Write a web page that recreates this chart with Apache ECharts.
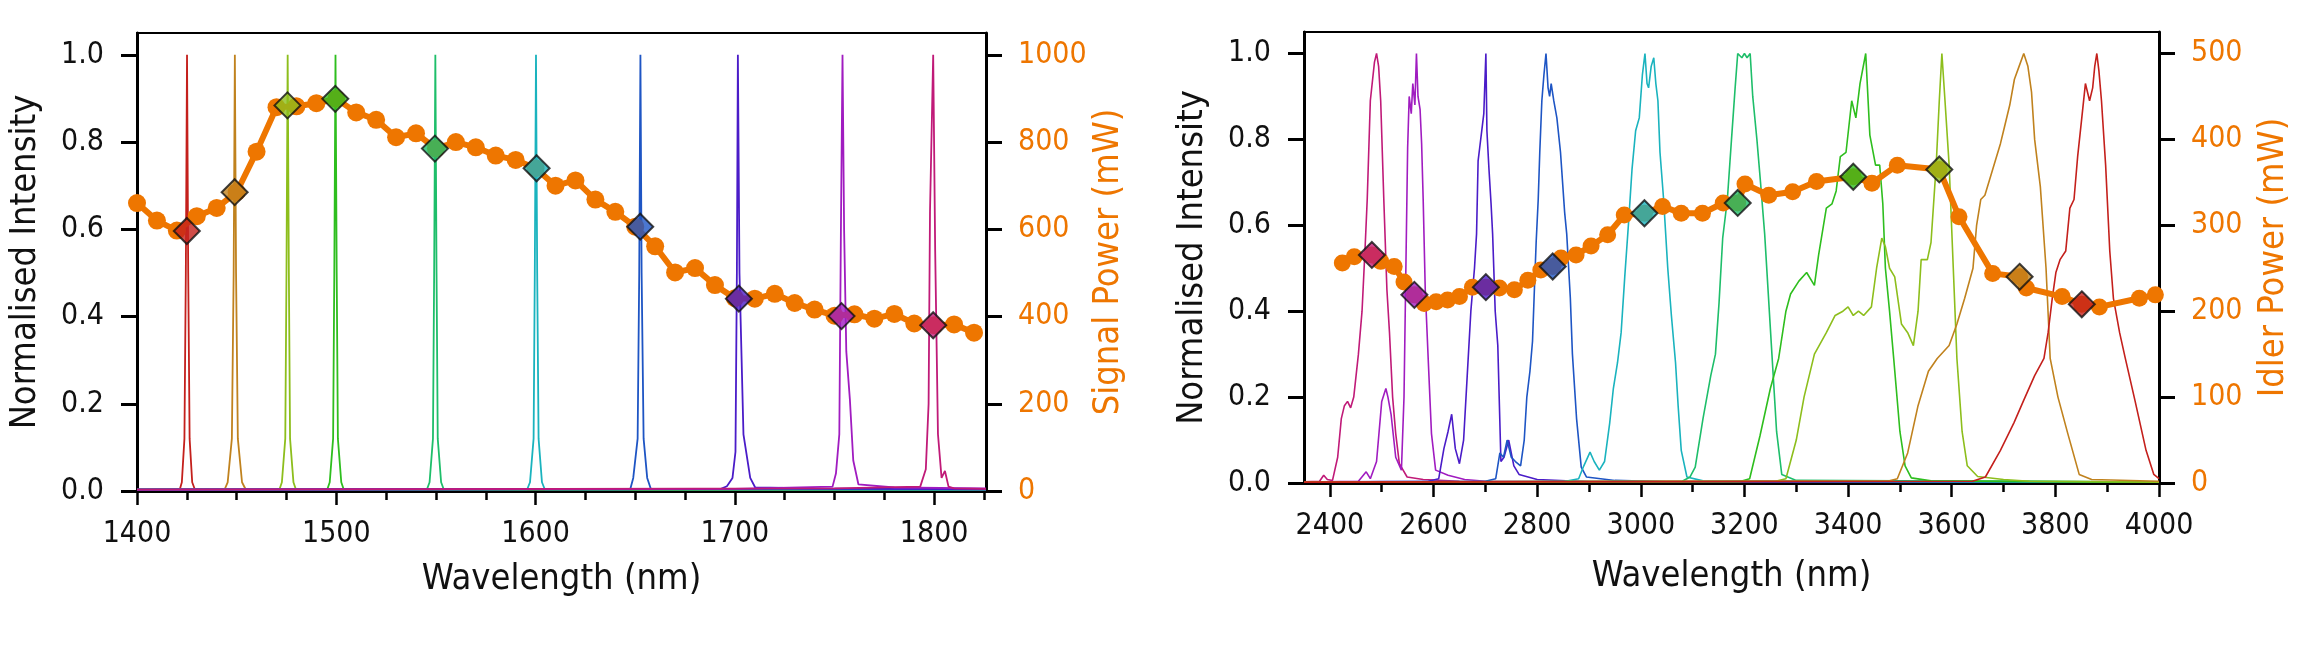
<!DOCTYPE html>
<html><head><meta charset="utf-8">
<script src="https://cdn.jsdelivr.net/npm/echarts@6/dist/echarts.min.js"></script>
<style>html,body{margin:0;padding:0;background:#fff}#c{width:2321px;height:660px}</style>
</head><body><div id="c"></div>
<script>
// ---------- DATA ----------
// Signal power curve (left chart, right axis, mW)
const signalWl = [1400,1410,1420,1430,1440,1450,1460,1470,1480,1490,1500,1510,1520,1530,1540,1550,1560,1570,1580,1590,1600,1610,1620,1630,1640,1650,1660,1670,1680,1690,1700,1710,1720,1730,1740,1750,1760,1770,1780,1790,1800,1810,1820];
const signalPower = [660,620,597,630,649,685,778,880,882,889,899,868,851,811,820,785,800,788,769,759,740,700,712,668,640,606,561,501,511,472,442,441,452,431,416,402,405,395,406,384,380,382,363];
// Signal diamonds (at spectrum peaks)
const signalMarkWl = [1425,1449,1475.5,1499.5,1549.5,1600.5,1652.5,1702,1753.5,1799.5];
const signalMarkPower = [596,685,884,899,785,740,606,441,401,380];

// Idler power curve (right chart, right axis, mW)
const idlerWl = [2424,2447,2481,2498,2524,2543,2563,2582,2605,2627,2650,2675,2701,2727,2756,2782,2807,2830,2846,2875,2904,2936,2968,3007,3042,3078,3119,3159,3187,3201,3247,3293,3339,3410,3446,3495,3576,3614,3679,3731,3744,3813,3851,3885,3962,3993];
const idlerPower = [256,263.5,265.5,258,252,234,219,209,211,213,217,228,228,227,225,236,248,252,262,265.5,276,289,312,314,322,314,314,326,326,348,335,339,351,356.5,349,370,365,310,244,240,227,217,208,205,215,219];
const idlerMarkWl = [2481,2563,2701,2830,3007,3187,3410,3576,3731,3851];
const idlerMarkPower = [265.5,219,228,252,314,326,356.5,365,240,208];

// Spectrum colours: signal order 1425 ... 1800
const specColors = ['#C4201C','#C0821E','#8DBE1C','#2EBE1E','#1EBE6A','#1AB3BE','#1E55C4','#4A1CC8','#A01CC0','#C01A78'];
// idler colours (same pairing, ordered by idler wavelength)
const idlerColors = ['#C01A78','#A01CC0','#4A1CC8','#1E55C4','#1AB3BE','#1EBE6A','#2EBE1E','#8DBE1C','#C0821E','#C4201C'];

// Signal spectra (normalised intensity)
const sig1425 = [[1400,0.003],[1421.5,0.004],[1422.5,0.02],[1423.8,0.12],[1424.5,0.5],[1425.1,1],[1425.7,0.5],[1426.4,0.12],[1427.7,0.02],[1429,0.004],[1826,0.003]];
const sig1450 = [[1400,0.003],[1444,0.004],[1445.5,0.02],[1447.6,0.12],[1448.5,0.5],[1449.1,1],[1449.7,0.5],[1450.6,0.12],[1452.7,0.02],[1454.5,0.004],[1826,0.003]];
const sig1475 = [[1400,0.003],[1471.5,0.004],[1472.7,0.02],[1474.4,0.12],[1475,0.5],[1475.6,1],[1476.2,0.5],[1476.8,0.12],[1478.5,0.02],[1479.7,0.004],[1826,0.003]];
const sig1500 = [[1400,0.003],[1495.5,0.004],[1496.7,0.02],[1498.4,0.12],[1499,0.5],[1499.6,1],[1500.2,0.5],[1500.8,0.12],[1502.5,0.02],[1503.7,0.004],[1826,0.003]];
const sig1550 = [[1400,0.003],[1545.5,0.004],[1546.8,0.02],[1548.5,0.12],[1549.1,0.5],[1549.7,1],[1550.3,0.5],[1550.9,0.12],[1552.6,0.02],[1553.9,0.004],[1826,0.003]];
const sig1600 = [[1400,0.003],[1595.8,0.004],[1597.2,0.02],[1599,0.12],[1599.6,0.5],[1600.2,1],[1600.8,0.5],[1601.5,0.12],[1603.2,0.02],[1604.6,0.004],[1826,0.003]];
const sig1650 = [[1400,0.003],[1647.5,0.004],[1649,0.03],[1651.2,0.12],[1652,0.5],[1652.6,1],[1653.2,0.5],[1654.2,0.12],[1656,0.03],[1657.8,0.005],[1826,0.004]];
const sig1700 = [[1400,0.003],[1693,0.005],[1696,0.011],[1698.8,0.03],[1700.3,0.09],[1701,0.5],[1701.5,1],[1702.3,0.5],[1704.3,0.13],[1707.7,0.03],[1710.2,0.008],[1740,0.006],[1826,0.004]];
const sig1750 = [[1400,0.003],[1700,0.005],[1749,0.01],[1750.7,0.04],[1752.4,0.13],[1753.2,0.6],[1754,1],[1754.8,0.6],[1755.9,0.32],[1757.7,0.21],[1759.4,0.07],[1762,0.015],[1780,0.008],[1826,0.006]];
const sig1800 = [[1400,0.003],[1750,0.006],[1793,0.01],[1795.8,0.05],[1797.2,0.2],[1797.9,0.64],[1799.5,1],[1800.5,0.55],[1801.9,0.13],[1803.7,0.03],[1805.4,0.046],[1807.2,0.01],[1810,0.006],[1826,0.005]];

// Idler spectra (normalised intensity)
const idl2490 = [[2350,0.003],[2380,0.004],[2388,0.018],[2395,0.008],[2405,0.006],[2415,0.06],[2422,0.15],[2428,0.18],[2434,0.19],[2440,0.175],[2446,0.2],[2455,0.3],[2462,0.4],[2468,0.55],[2472,0.66],[2478,0.89],[2486,0.98],[2490,1.0],[2494,0.97],[2498,0.89],[2504,0.66],[2510,0.45],[2515,0.35],[2521,0.2],[2527,0.115],[2534,0.045],[2549,0.014],[2580,0.008],[2650,0.004],[4000,0.002]];
const idl2567 = [[2350,0.002],[2455,0.004],[2470,0.026],[2478,0.01],[2490,0.05],[2500,0.19],[2508,0.22],[2512,0.2],[2518,0.16],[2527,0.06],[2538,0.03],[2543,0.2],[2546,0.45],[2550,0.78],[2553,0.9],[2557,0.86],[2560,0.93],[2564,0.88],[2567,1.0],[2570,0.9],[2574,0.87],[2577,0.79],[2580,0.66],[2584,0.45],[2590,0.28],[2596,0.115],[2604,0.03],[2628,0.018],[2660,0.008],[2700,0.004],[4000,0.002]];
const idl2701 = [[2350,0.002],[2590,0.004],[2610,0.01],[2620,0.08],[2628,0.12],[2635,0.16],[2642,0.08],[2650,0.045],[2658,0.1],[2665,0.25],[2672,0.4],[2679,0.5],[2683,0.58],[2686,0.75],[2689,0.78],[2693,0.82],[2697,0.86],[2701,1.0],[2703,0.82],[2707,0.73],[2711,0.65],[2714,0.58],[2719,0.4],[2724,0.32],[2730,0.05],[2736,0.06],[2745,0.1],[2755,0.04],[2765,0.02],[2800,0.008],[2900,0.003],[4000,0.002]];
const idl2817 = [[2350,0.002],[2700,0.004],[2720,0.01],[2728,0.07],[2735,0.06],[2742,0.1],[2750,0.06],[2758,0.05],[2768,0.04],[2775,0.1],[2780,0.2],[2786,0.26],[2791,0.33],[2794,0.43],[2798,0.56],[2802,0.66],[2805,0.77],[2809,0.89],[2813,0.95],[2817,1.0],[2821,0.92],[2824,0.9],[2827,0.93],[2832,0.89],[2838,0.85],[2845,0.77],[2853,0.63],[2857,0.58],[2864,0.43],[2868,0.3],[2876,0.15],[2885,0.037],[2895,0.014],[2950,0.006],[3050,0.003],[4000,0.002]];
const idl3008 = [[2350,0.002],[2850,0.003],[2880,0.01],[2890,0.04],[2902,0.072],[2910,0.05],[2920,0.03],[2930,0.05],[2940,0.14],[2947,0.22],[2955,0.28],[2962,0.35],[2969,0.48],[2976,0.6],[2983,0.73],[2990,0.82],[2997,0.85],[3003,0.95],[3008,1.0],[3012,0.93],[3015,0.92],[3020,0.97],[3025,0.99],[3029,0.93],[3033,0.89],[3037,0.77],[3044,0.66],[3052,0.5],[3059,0.39],[3067,0.28],[3072,0.18],[3078,0.076],[3089,0.014],[3120,0.005],[4000,0.002]];
const idl3190 = [[2350,0.002],[3080,0.004],[3095,0.014],[3105,0.037],[3120,0.15],[3135,0.25],[3144,0.3],[3151,0.42],[3158,0.57],[3167,0.66],[3175,0.8],[3182,0.92],[3187,1.0],[3195,0.99],[3200,1.0],[3205,0.99],[3211,1.0],[3216,0.9],[3224,0.8],[3231,0.7],[3239,0.58],[3245,0.46],[3253,0.3],[3262,0.12],[3272,0.02],[3300,0.006],[4000,0.002]];
const idl3434 = [[2350,0.002],[3190,0.003],[3210,0.01],[3230,0.11],[3250,0.22],[3266,0.29],[3280,0.4],[3289,0.44],[3305,0.47],[3320,0.49],[3335,0.46],[3343,0.53],[3358,0.64],[3369,0.65],[3377,0.68],[3385,0.76],[3396,0.77],[3407,0.89],[3415,0.85],[3423,0.93],[3434,1.0],[3442,0.81],[3453,0.74],[3461,0.74],[3467,0.65],[3472,0.5],[3480,0.4],[3488,0.29],[3500,0.12],[3510,0.04],[3522,0.012],[3560,0.005],[4000,0.002]];
const idl3581 = [[2350,0.002],[3260,0.004],[3280,0.01],[3300,0.1],[3315,0.2],[3335,0.3],[3358,0.35],[3375,0.39],[3390,0.4],[3400,0.41],[3410,0.39],[3420,0.4],[3430,0.39],[3445,0.41],[3455,0.5],[3465,0.57],[3472,0.55],[3480,0.5],[3490,0.48],[3503,0.37],[3515,0.35],[3526,0.32],[3535,0.4],[3541,0.52],[3553,0.52],[3560,0.56],[3570,0.74],[3576,0.89],[3581,1.0],[3587,0.89],[3595,0.74],[3603,0.5],[3610,0.29],[3620,0.12],[3630,0.04],[3650,0.015],[3700,0.008],[3750,0.004],[4000,0.002]];
const idl3739 = [[2350,0.002],[3480,0.005],[3495,0.01],[3515,0.07],[3535,0.18],[3555,0.26],[3572,0.29],[3595,0.32],[3610,0.37],[3625,0.43],[3641,0.5],[3648,0.6],[3656,0.66],[3664,0.67],[3679,0.73],[3694,0.79],[3702,0.83],[3712,0.88],[3721,0.94],[3730,0.97],[3739,1.0],[3747,0.97],[3754,0.91],[3760,0.8],[3771,0.69],[3782,0.5],[3790,0.29],[3805,0.2],[3824,0.115],[3846,0.02],[3870,0.008],[4000,0.004]];
const idl3880 = [[2350,0.002],[3640,0.004],[3665,0.014],[3694,0.076],[3720,0.14],[3738,0.19],[3760,0.25],[3778,0.29],[3786,0.35],[3794,0.43],[3801,0.49],[3809,0.52],[3820,0.54],[3828,0.64],[3836,0.66],[3843,0.76],[3851,0.85],[3858,0.93],[3866,0.89],[3872,0.92],[3876,0.97],[3880,1.0],[3884,0.96],[3889,0.89],[3897,0.74],[3905,0.54],[3912,0.43],[3924,0.35],[3935,0.29],[3954,0.19],[3975,0.076],[3990,0.02],[4000,0.01]];

// Tick positions / labels
const sigMajorTicks = [1400,1500,1600,1700,1800];
const sigMinorTicks = [1425,1450,1475,1525,1550,1575,1625,1650,1675,1725,1750,1775,1825];
const idlMajorTicks = [2400,2600,2800,3000,3200,3400,3600,3800,4000];
const idlMinorTicks = [2500,2700,2900,3100,3300,3500,3700,3900];
const intensityTicks = [0,0.2,0.4,0.6,0.8,1.0];
const signalPowerTicks = [0,200,400,600,800,1000];
const idlerPowerTicks = [0,100,200,300,400,500];

// ---------- CHART ----------
const W = 2321, H = 660;
const FONT = "'DejaVu Sans Condensed','Liberation Sans',sans-serif";
const ORANGE = '#EE7600';
const TICK_FS = 30, TITLE_FS = 36;

const sigSpectra = [sig1425,sig1450,sig1475,sig1500,sig1550,sig1600,sig1650,sig1700,sig1750,sig1800];
const idlSpectra = [idl2490,idl2567,idl2701,idl2817,idl3008,idl3190,idl3434,idl3581,idl3739,idl3880];

const chart = echarts.init(document.getElementById('c'), null, {renderer:'canvas', width:W, height:H});
const plain = v => String(v);

function xMain(grid, min, max, major) {
  return {
    gridIndex: grid, type:'value', min, max, position:'bottom',
    name:'Wavelength (nm)', nameLocation:'middle', nameGap: grid === 0 ? 71 : 76,
    nameTextStyle:{fontFamily:FONT, fontSize:TITLE_FS, color:'#111'},
    axisLine:{show:true, onZero:false, lineStyle:{color:'#000', width:3}},
    axisTick:{show:true, length:14, customValues:major, lineStyle:{color:'#000', width:2.5}},
    axisLabel:{show:true, customValues:major, margin:28, fontFamily:FONT, fontSize:TICK_FS, color:'#111', formatter:plain},
    splitLine:{show:false}
  };
}
function xMinor(grid, min, max, minor) {
  return {
    gridIndex: grid, type:'value', min, max, position:'bottom',
    axisLine:{show:false, onZero:false},
    axisTick:{show:true, length:9, customValues:minor, lineStyle:{color:'#000', width:2.5}},
    axisLabel:{show:false}, splitLine:{show:false}
  };
}
function yLeft(grid) {
  return {
    gridIndex: grid, type:'value', min:0, max:1.05, position:'left',
    name:'Normalised Intensity', nameLocation:'middle', nameRotate:90, nameGap:93,
    nameTextStyle:{fontFamily:FONT, fontSize:TITLE_FS, color:'#111'},
    axisLine:{show:true, onZero:false, lineStyle:{color:'#000', width:3}},
    axisTick:{show:true, length:16, customValues:intensityTicks, lineStyle:{color:'#000', width:3}},
    axisLabel:{show:true, customValues:intensityTicks, margin:33, fontFamily:FONT, fontSize:TICK_FS, color:'#111',
      formatter:v=>Number(v).toFixed(1)},
    splitLine:{show:false}
  };
}
function yRight(grid, max, ticks, name) {
  return {
    gridIndex: grid, type:'value', min:0, max, position:'right',
    name, nameLocation:'middle', nameRotate:90, nameGap:97,
    nameTextStyle:{fontFamily:FONT, fontSize:TITLE_FS, color:ORANGE},
    axisLine:{show:true, onZero:false, lineStyle:{color:'#000', width:3}},
    axisTick:{show:true, length:16, customValues:ticks, lineStyle:{color:'#000', width:3}},
    axisLabel:{show:true, customValues:ticks, margin:32, fontFamily:FONT, fontSize:TICK_FS, color:ORANGE, formatter:plain},
    splitLine:{show:false}
  };
}

const series = [];
sigSpectra.forEach((d,i)=>series.push({
  type:'line', xAxisIndex:0, yAxisIndex:0, data:d, showSymbol:false, symbol:'none',
  lineStyle:{color:specColors[i], width:1.8}, z:2, silent:true, clip:true
}));
idlSpectra.forEach((d,i)=>series.push({
  type:'line', xAxisIndex:2, yAxisIndex:2, data:d, showSymbol:false, symbol:'none',
  lineStyle:{color:idlerColors[i], width:1.6}, z:2, silent:true, clip:true
}));
series.push({
  type:'line', xAxisIndex:0, yAxisIndex:1, data:signalWl.map((w,i)=>[w,signalPower[i]]),
  symbol:'circle', symbolSize:18, showSymbol:true, lineStyle:{color:ORANGE, width:6},
  itemStyle:{color:ORANGE, borderWidth:0}, z:5, clip:true
});
series.push({
  type:'scatter', xAxisIndex:0, yAxisIndex:1,
  data:signalMarkWl.map((w,i)=>({value:[w,signalMarkPower[i]], itemStyle:{color:specColors[i]}})),
  symbol:'diamond', symbolSize:26, itemStyle:{borderColor:'#111', borderWidth:2}, z:6
});
series.push({
  type:'line', xAxisIndex:2, yAxisIndex:3, data:idlerWl.map((w,i)=>[w,idlerPower[i]]),
  symbol:'circle', symbolSize:17, showSymbol:true, lineStyle:{color:ORANGE, width:6},
  itemStyle:{color:ORANGE, borderWidth:0}, z:5, clip:true
});
series.push({
  type:'scatter', xAxisIndex:2, yAxisIndex:3,
  data:idlerMarkWl.map((w,i)=>({value:[w,idlerMarkPower[i]], itemStyle:{color:idlerColors[i]}})),
  symbol:'diamond', symbolSize:26, itemStyle:{borderColor:'#111', borderWidth:2}, z:6
});

chart.setOption({
  animation:false,
  backgroundColor:'#fff',
  grid:[
    {left:137, right:W-986, top:33, bottom:H-491, show:true, borderColor:'#000', borderWidth:2, backgroundColor:'transparent'},
    {left:1304, right:W-2159, top:32, bottom:H-483, show:true, borderColor:'#000', borderWidth:2, backgroundColor:'transparent'}
  ],
  xAxis:[
    xMain(0,1400,1826,sigMajorTicks), xMinor(0,1400,1826,sigMinorTicks),
    xMain(1,2350,4000,idlMajorTicks), xMinor(1,2350,4000,idlMinorTicks)
  ],
  yAxis:[
    yLeft(0), yRight(0,1050,signalPowerTicks,'Signal Power (mW)'),
    yLeft(1), yRight(1,525,idlerPowerTicks,'Idler Power (mW)')
  ],
  series
});
</script>
</body></html>
